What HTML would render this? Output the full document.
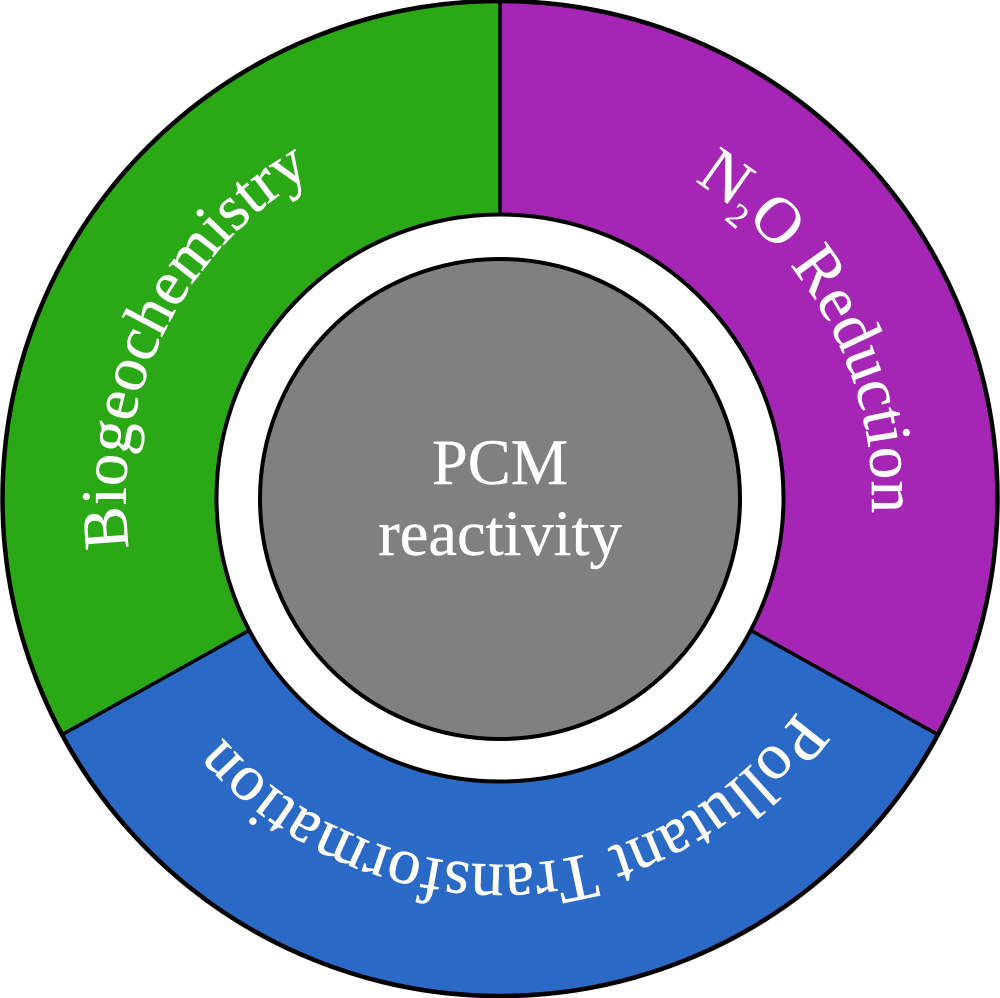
<!DOCTYPE html>
<html>
<head>
<meta charset="utf-8">
<style>
html,body{margin:0;padding:0;background:#fff;}
svg{display:block;}
text{font-family:"Liberation Serif",serif;fill:#fff;stroke:#fff;stroke-width:.4px;font-size:65px;}
</style>
</head>
<body>
<svg width="1000" height="998" viewBox="0 0 1000 998" xmlns="http://www.w3.org/2000/svg">
<defs>
<path id="pb" d="M129 548 A376 376 0 0 1 500 122.5 A376 376 0 0 1 876 498.5"/>
<path id="pn" d="M694.4 181.3 A372 372 0 0 1 872 498.5 A372 372 0 0 1 500 870.5"/>
<path id="pp" d="M797 711 A366 366 0 0 1 500 864.5 A366 366 0 0 1 222 737 A366 366 0 0 1 134 498.5"/>
</defs>
<circle cx="500" cy="498.5" r="497.5" fill="#2a6ac6"/>
<path d="M500 498.5 L500 1 A497.5 497.5 0 0 0 62 734.7 L246 632 Z" fill="#2aa815"/>
<path d="M500 498.5 L500 1 A497.5 497.5 0 0 1 938 734.7 L754 632 Z" fill="#a526b4"/>
<path d="M500 1 V300 M62 734.7 L300 602 M938 734.7 L700 602" fill="none" stroke="#000" stroke-width="3.5"/>
<circle cx="500" cy="498.5" r="497.5" fill="none" stroke="#000" stroke-width="4.5"/>
<circle cx="500" cy="498" r="283.5" fill="#fff" stroke="#000" stroke-width="4"/>
<circle cx="500" cy="499" r="240" fill="#808080" stroke="#000" stroke-width="4"/>
<text x="500" y="484" text-anchor="middle" style="font-size:64.5px">PCM</text>
<text x="500" y="555" text-anchor="middle" style="font-size:64.5px">reactivity</text>
<text style="font-size:64.5px"><textPath href="#pb">Biogeochemistry</textPath></text>
<text><textPath href="#pn">N<tspan dy="14" style="font-size:34px">2</tspan><tspan dy="-14">O Reduction</tspan></textPath></text>
<text style="font-size:66px"><textPath href="#pp">Pollutant Transformation</textPath></text>
</svg>
</body>
</html>
